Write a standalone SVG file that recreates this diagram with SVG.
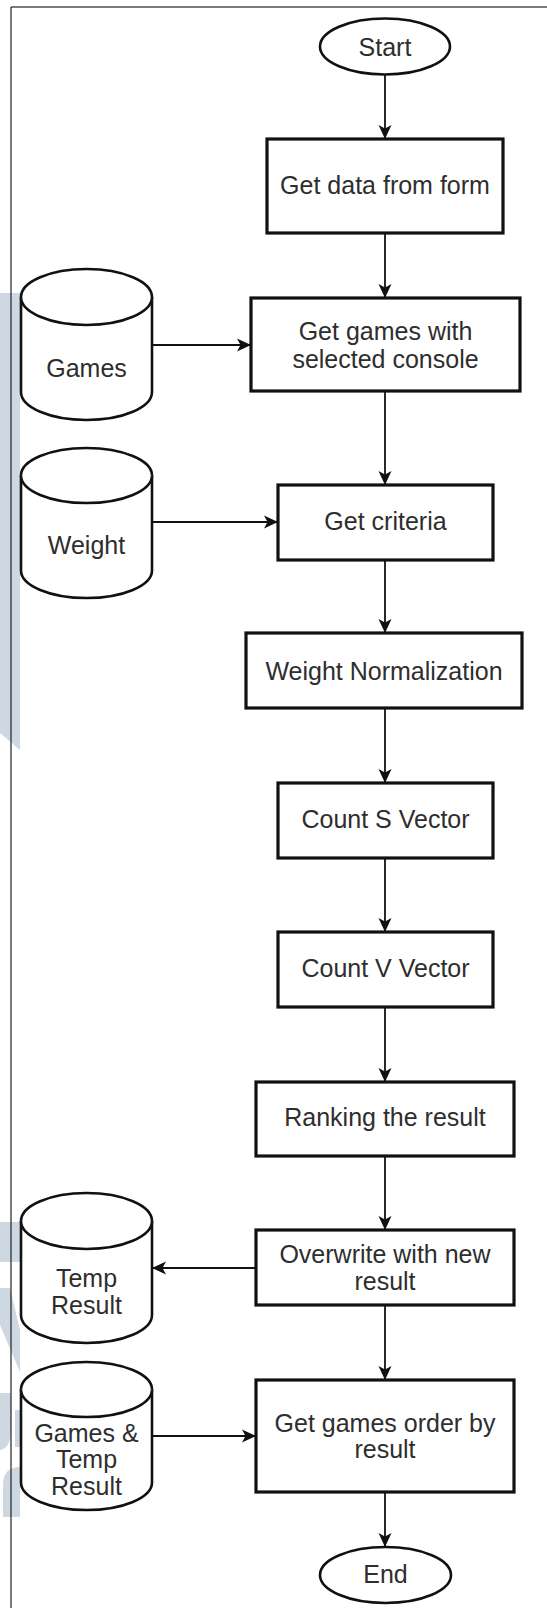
<svg xmlns="http://www.w3.org/2000/svg" width="547" height="1608" viewBox="0 0 547 1608">
  <defs>
    <style>
      .box { fill: #ffffff; stroke: #111111; stroke-width: 3.2; }
      .term { fill: #ffffff; stroke: #111111; stroke-width: 2.6; }
      .db { fill: #ffffff; stroke: #111111; stroke-width: 2.6; }
      .edge { fill: none; stroke: #111111; stroke-width: 1.8; }
      .lbl { font-family: "Liberation Sans", Arial, sans-serif; font-size: 25px; fill: #2e2e2e; text-anchor: middle; }
      .mark { fill: #cdd8e2; }
    </style>
    <marker id="arrow" markerUnits="userSpaceOnUse" markerWidth="16" markerHeight="16" refX="14" refY="8" orient="auto">
      <path d="M0,1.5 L14,8 L0,14.5 L3.5,8 Z" fill="#111111"/>
    </marker>
  </defs>

  <rect width="547" height="1608" fill="#ffffff"/>

  <!-- faint background emblem along the left edge -->
  <g id="emblem">
    <polygon class="mark" points="0,293 20,293 20,750 0,733"/>
    <rect class="mark" x="0" y="1222" width="20" height="40"/>
    <polygon class="mark" points="0,1288 10,1288 20,1330 20,1372 0,1325"/>
    <path class="mark" d="M0,1393 H11 V1430 Q11,1448 0,1450 Z"/>
    <rect class="mark" x="15" y="1410" width="5" height="37"/>
    <path class="mark" d="M20,1467 V1517 H3 V1485 Q3,1467 20,1467 Z"/>
  </g>

  <!-- page frame -->
  <g id="frame">
    <line x1="11" y1="7" x2="547" y2="7" stroke="#7a7a7a" stroke-width="2"/>
    <line x1="11" y1="7" x2="11" y2="1608" stroke="#222222" stroke-width="1.2"/>
  </g>

  <!-- connectors -->
  <g id="connectors">
    <line class="edge" x1="385" y1="75" x2="385" y2="139" marker-end="url(#arrow)"/>
    <line class="edge" x1="385" y1="233" x2="385" y2="298" marker-end="url(#arrow)"/>
    <line class="edge" x1="385" y1="391" x2="385" y2="485" marker-end="url(#arrow)"/>
    <line class="edge" x1="385" y1="560" x2="385" y2="633" marker-end="url(#arrow)"/>
    <line class="edge" x1="385" y1="708" x2="385" y2="783" marker-end="url(#arrow)"/>
    <line class="edge" x1="385" y1="858" x2="385" y2="932" marker-end="url(#arrow)"/>
    <line class="edge" x1="385" y1="1007" x2="385" y2="1082" marker-end="url(#arrow)"/>
    <line class="edge" x1="385" y1="1156" x2="385" y2="1230" marker-end="url(#arrow)"/>
    <line class="edge" x1="385" y1="1305" x2="385" y2="1380" marker-end="url(#arrow)"/>
    <line class="edge" x1="385" y1="1492" x2="385" y2="1547" marker-end="url(#arrow)"/>
    <line class="edge" x1="152" y1="345" x2="251" y2="345" marker-end="url(#arrow)"/>
    <line class="edge" x1="152" y1="522" x2="278" y2="522" marker-end="url(#arrow)"/>
    <line class="edge" x1="256" y1="1268" x2="152" y2="1268" marker-end="url(#arrow)"/>
    <line class="edge" x1="152" y1="1436" x2="256" y2="1436" marker-end="url(#arrow)"/>
  </g>

  <g id="start">
    <ellipse class="term" cx="385" cy="46.5" rx="65" ry="28"/>
    <text class="lbl" x="385" y="55.5">Start</text>
  </g>

  <g id="get-data">
    <rect class="box" x="267" y="139" width="236" height="94"/>
    <text class="lbl" x="385" y="194">Get data from form</text>
  </g>

  <g id="get-games">
    <rect class="box" x="251" y="298" width="269" height="93"/>
    <text class="lbl" x="385.5" y="340">Get games with</text>
    <text class="lbl" x="385.5" y="368">selected console</text>
  </g>

  <g id="games-db">
    <path class="db" d="M21,297 A65.5,28 0 0 1 152,297 L152,392 A65.5,28 0 0 1 21,392 Z"/>
    <path class="db" d="M21,297 A65.5,28 0 0 0 152,297"/>
    <text class="lbl" x="86.5" y="377">Games</text>
  </g>

  <g id="get-criteria">
    <rect class="box" x="278" y="485" width="215" height="75"/>
    <text class="lbl" x="385.5" y="530">Get criteria</text>
  </g>

  <g id="weight-db">
    <path class="db" d="M21,475.5 A65.5,27.5 0 0 1 152,475.5 L152,570.5 A65.5,27.5 0 0 1 21,570.5 Z"/>
    <path class="db" d="M21,475.5 A65.5,27.5 0 0 0 152,475.5"/>
    <text class="lbl" x="86.5" y="554">Weight</text>
  </g>

  <g id="weight-normalization">
    <rect class="box" x="246" y="633" width="276" height="75"/>
    <text class="lbl" x="384" y="680">Weight Normalization</text>
  </g>

  <g id="count-s">
    <rect class="box" x="278" y="783" width="215" height="75"/>
    <text class="lbl" x="385.5" y="828">Count S Vector</text>
  </g>

  <g id="count-v">
    <rect class="box" x="278" y="932" width="215" height="75"/>
    <text class="lbl" x="385.5" y="977">Count V Vector</text>
  </g>

  <g id="ranking">
    <rect class="box" x="256" y="1082" width="258" height="74"/>
    <text class="lbl" x="385" y="1126">Ranking the result</text>
  </g>

  <g id="overwrite">
    <rect class="box" x="256" y="1230" width="258" height="75"/>
    <text class="lbl" x="385" y="1263">Overwrite with new</text>
    <text class="lbl" x="385" y="1290">result</text>
  </g>

  <g id="temp-db">
    <path class="db" d="M21,1221 A65.5,28 0 0 1 152,1221 L152,1315 A65.5,28 0 0 1 21,1315 Z"/>
    <path class="db" d="M21,1221 A65.5,28 0 0 0 152,1221"/>
    <text class="lbl" x="86.5" y="1287">Temp</text>
    <text class="lbl" x="86.5" y="1314">Result</text>
  </g>

  <g id="order-by-result">
    <rect class="box" x="256" y="1380" width="258" height="112"/>
    <text class="lbl" x="385" y="1432">Get games order by</text>
    <text class="lbl" x="385" y="1458">result</text>
  </g>

  <g id="games-temp-db">
    <path class="db" d="M21,1389.5 A65.5,27.5 0 0 1 152,1389.5 L152,1482.5 A65.5,27.5 0 0 1 21,1482.5 Z"/>
    <path class="db" d="M21,1389.5 A65.5,27.5 0 0 0 152,1389.5"/>
    <text class="lbl" x="86.5" y="1442">Games &amp;</text>
    <text class="lbl" x="86.5" y="1468">Temp</text>
    <text class="lbl" x="86.5" y="1495">Result</text>
  </g>

  <g id="end">
    <ellipse class="term" cx="385.5" cy="1575" rx="65.5" ry="28"/>
    <text class="lbl" x="385.5" y="1583">End</text>
  </g>
</svg>
